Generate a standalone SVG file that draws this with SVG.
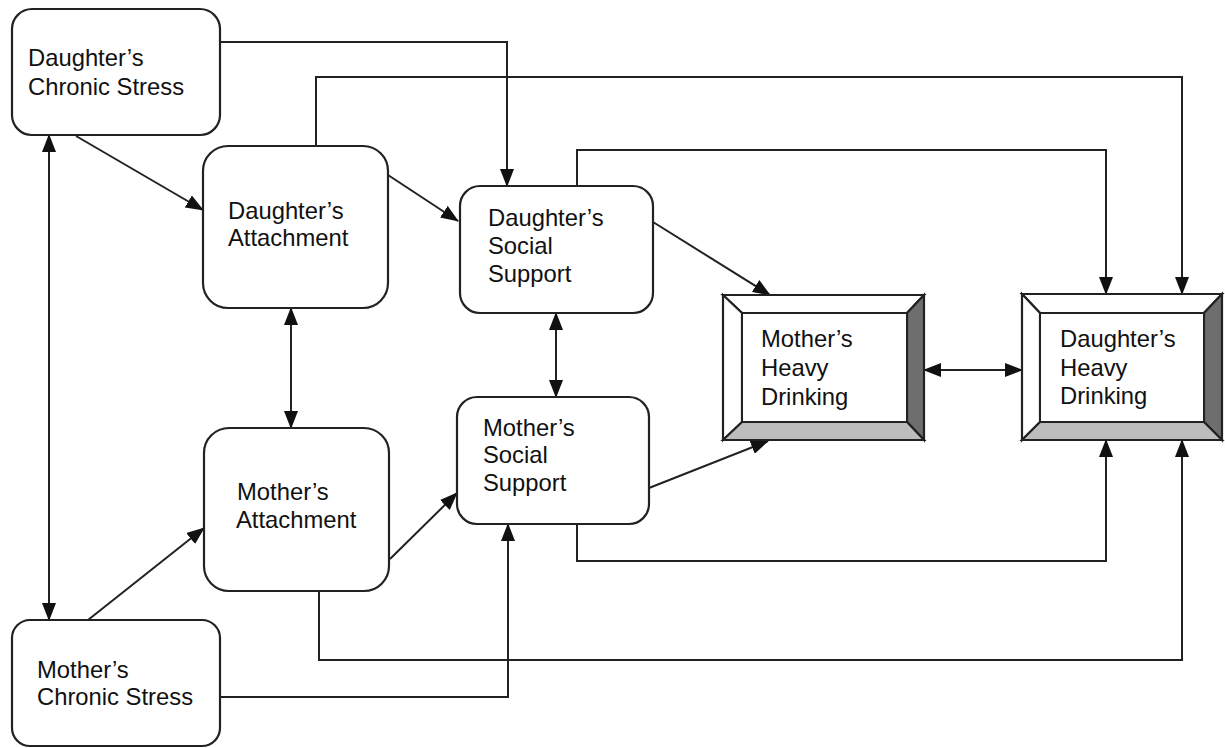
<svg xmlns="http://www.w3.org/2000/svg" width="1225" height="748" viewBox="0 0 1225 748">
<style>
.box{fill:#fff;stroke:#222;stroke-width:2.2}
.t{font-family:"Liberation Sans",Arial,sans-serif;font-size:23.8px;fill:#111}
.c{fill:none;stroke:#222;stroke-width:2}
.bv{stroke:#222;stroke-width:2.2;stroke-linejoin:miter}
</style>
<defs>
<marker id="a" markerUnits="userSpaceOnUse" markerWidth="18" markerHeight="14" viewBox="0 0 18 14" refX="17" refY="7" orient="auto-start-reverse">
<path d="M0,0 L18,7 L0,14 z" fill="#111"/>
</marker>
</defs>
<rect width="1225" height="748" fill="#fff"/>

<g id="connectors">
<path class="c" d="M220,42 H507 V186" marker-end="url(#a)"/>
<path class="c" d="M316,146 V77 H1182 V294" marker-end="url(#a)"/>
<path class="c" d="M577,186 V150 H1106 V294" marker-end="url(#a)"/>
<path class="c" d="M76,136 L203,210" marker-end="url(#a)"/>
<path class="c" d="M388,175 L458,221" marker-end="url(#a)"/>
<path class="c" d="M653,222 L770,295" marker-end="url(#a)"/>
<path class="c" d="M649,488 L768,441" marker-end="url(#a)"/>
<path class="c" d="M556,313 V397" marker-start="url(#a)" marker-end="url(#a)"/>
<path class="c" d="M291,308 V428" marker-start="url(#a)" marker-end="url(#a)"/>
<path class="c" d="M49,135 V620" marker-start="url(#a)" marker-end="url(#a)"/>
<path class="c" d="M924,370 H1022" marker-start="url(#a)" marker-end="url(#a)"/>
<path class="c" d="M88,620 L204,528" marker-end="url(#a)"/>
<path class="c" d="M390,559 L457,493" marker-end="url(#a)"/>
<path class="c" d="M220,697 H508 V524" marker-end="url(#a)"/>
<path class="c" d="M577,524 V561 H1106 V440" marker-end="url(#a)"/>
<path class="c" d="M319,591 V660 H1182 V440" marker-end="url(#a)"/>
</g>

<g id="daughters-chronic-stress">
<rect class="box" x="12" y="9" width="208" height="126" rx="20"/>
<text class="t" x="28" y="66">Daughter’s</text>
<text class="t" x="28" y="95">Chronic Stress</text>
</g>

<g id="daughters-attachment">
<rect class="box" x="203" y="146" width="185" height="162" rx="25"/>
<text class="t" x="228" y="219">Daughter’s</text>
<text class="t" x="228" y="246">Attachment</text>
</g>

<g id="daughters-social-support">
<rect class="box" x="460" y="186" width="193" height="127" rx="20"/>
<text class="t" x="488" y="226">Daughter’s</text>
<text class="t" x="488" y="254">Social</text>
<text class="t" x="488" y="282">Support</text>
</g>

<g id="mothers-attachment">
<rect class="box" x="204" y="428" width="185" height="163" rx="25"/>
<text class="t" x="237" y="500">Mother’s</text>
<text class="t" x="236" y="528">Attachment</text>
</g>

<g id="mothers-social-support">
<rect class="box" x="457" y="397" width="192" height="127" rx="20"/>
<text class="t" x="483" y="436">Mother’s</text>
<text class="t" x="483" y="463">Social</text>
<text class="t" x="483" y="491">Support</text>
</g>

<g id="mothers-chronic-stress">
<rect class="box" x="12" y="620" width="208" height="126" rx="18"/>
<text class="t" x="37" y="678">Mother’s</text>
<text class="t" x="37" y="705">Chronic Stress</text>
</g>

<g id="mothers-heavy-drinking">
<polygon class="bv" points="723,295 924,295 907,313 742,313" fill="#fff"/>
<polygon class="bv" points="723,295 742,313 742,422 723,440" fill="#fff"/>
<polygon class="bv" points="924,295 924,440 907,422 907,313" fill="#6e6e6e"/>
<polygon class="bv" points="723,440 742,422 907,422 924,440" fill="#bdbdbd"/>
<rect x="742" y="313" width="165" height="109" fill="#fff" stroke="#222" stroke-width="2"/>
<text class="t" x="761" y="347">Mother’s</text>
<text class="t" x="761" y="376">Heavy</text>
<text class="t" x="761" y="405">Drinking</text>
</g>

<g id="daughters-heavy-drinking">
<polygon class="bv" points="1022,294 1222,294 1204,313 1040,313" fill="#fff"/>
<polygon class="bv" points="1022,294 1040,313 1040,422 1022,440" fill="#fff"/>
<polygon class="bv" points="1222,294 1222,440 1204,422 1204,313" fill="#6e6e6e"/>
<polygon class="bv" points="1022,440 1040,422 1204,422 1222,440" fill="#bdbdbd"/>
<rect x="1040" y="313" width="164" height="109" fill="#fff" stroke="#222" stroke-width="2"/>
<text class="t" x="1060" y="347">Daughter’s</text>
<text class="t" x="1060" y="376">Heavy</text>
<text class="t" x="1060" y="404">Drinking</text>
</g>
</svg>
